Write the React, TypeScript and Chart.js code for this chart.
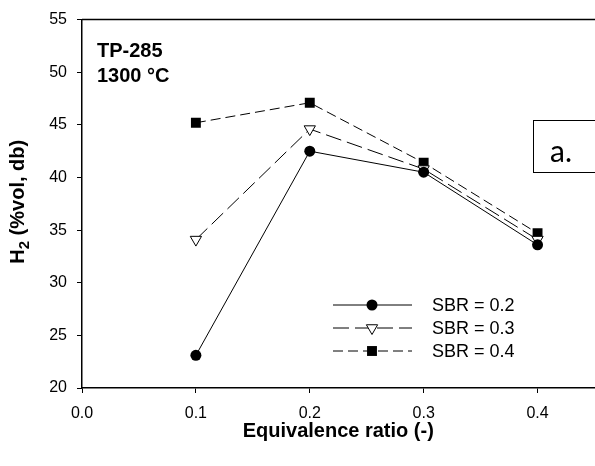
import React, { useEffect, useRef } from 'react';
import { Chart, registerables } from 'chart.js';
import { drawPoint } from 'chart.js/helpers';

Chart.register(...registerables);

const equivalenceRatio = [0.1, 0.2, 0.3, 0.4];
const sbr02 = [23.1, 42.5, 40.5, 33.6];
const sbr03 = [34.1, 44.6, 40.8, 34.1];
const sbr04 = [45.2, 47.1, 41.4, 34.7];
const seriesLabels = ['SBR = 0.2', 'SBR = 0.3', 'SBR = 0.4'];
const xTickValues = [0.0, 0.1, 0.2, 0.3, 0.4];
const yTickValues = [20, 25, 30, 35, 40, 45, 50, 55];
const annotationLines = ['TP-285', '1300 °C'];
const panelLabel = 'a.';
const xTitle = 'Equivalence ratio (-)';
const yTitleMain = 'H';
const yTitleSub = '2';
const yTitleRest = ' (%vol, db)';

const FONT = '"Liberation Sans", Arial, sans-serif';

const toPoints = (ys: number[]) => equivalenceRatio.map((x, i) => ({ x, y: ys[i] }));

const decorPlugin = {
  id: 'decor',
  afterDraw(chart: any) {
    const ctx = chart.ctx as CanvasRenderingContext2D;
    const area = chart.chartArea;
    ctx.save();
    // top border
    ctx.strokeStyle = '#000';
    ctx.lineWidth = 1.5;
    ctx.beginPath();
    ctx.moveTo(area.left, area.top);
    ctx.lineTo(chart.width, area.top);
    ctx.stroke();

    ctx.fillStyle = '#000';
    // annotation text
    ctx.font = `bold 20px ${FONT}`;
    ctx.textAlign = 'left';
    ctx.textBaseline = 'alphabetic';
    annotationLines.forEach((t, i) => ctx.fillText(t, 97, 57 + i * 25));

    // x title
    ctx.textAlign = 'center';
    ctx.fillText(xTitle, (area.left + area.right) / 2, 437);

    // y title with subscript
    ctx.save();
    ctx.translate(24, (area.top + area.bottom) / 2 - 2);
    ctx.rotate(-Math.PI / 2);
    ctx.textAlign = 'left';
    ctx.font = `bold 20px ${FONT}`;
    const wH = ctx.measureText(yTitleMain).width;
    const wRest = ctx.measureText(yTitleRest).width;
    ctx.font = `bold 15px ${FONT}`;
    const wSub = ctx.measureText(yTitleSub).width;
    const total = wH + wSub + wRest;
    let u = -total / 2;
    ctx.font = `bold 20px ${FONT}`;
    ctx.fillText(yTitleMain, u, 0);
    u += wH;
    ctx.font = `bold 15px ${FONT}`;
    ctx.fillText(yTitleSub, u, 5);
    u += wSub;
    ctx.font = `bold 20px ${FONT}`;
    ctx.fillText(yTitleRest, u, 0);
    ctx.restore();

    // panel label box
    ctx.lineWidth = 1;
    ctx.strokeRect(533.5, 120.5, 80, 52);
    ctx.font = `30px Lato, "Open Sans", sans-serif`;
    ctx.textAlign = 'left';
    ctx.fillText(panelLabel, 550, 162);

    // legend
    const datasets = chart.data.datasets;
    datasets.forEach((ds: any, i: number) => {
      const y = 305 + i * 23;
      ctx.save();
      ctx.strokeStyle = '#000';
      ctx.lineWidth = 1;
      ctx.setLineDash(ds.borderDash || []);
      ctx.beginPath();
      ctx.moveTo(333, y);
      ctx.lineTo(412, y);
      ctx.stroke();
      ctx.setLineDash([]);
      ctx.fillStyle = ds.pointBackgroundColor;
      ctx.strokeStyle = ds.pointBorderColor;
      drawPoint(ctx, {
        pointStyle: ds.pointStyle,
        rotation: ds.pointRotation || 0,
        radius: ds.pointRadius,
        borderWidth: ds.pointBorderWidth,
      } as any, 372, y);
      ctx.restore();
      ctx.fillStyle = '#000';
      ctx.font = `18px ${FONT}`;
      ctx.textAlign = 'left';
      ctx.textBaseline = 'middle';
      ctx.fillText(ds.label, 432, y + 1);
    });
    ctx.restore();
  },
};

export default function App() {
  const ref = useRef<HTMLCanvasElement | null>(null);
  useEffect(() => {
    if (!ref.current) return;
    const chart = new Chart(ref.current, {
      type: 'line',
      data: {
        datasets: [
          {
            label: seriesLabels[0],
            data: toPoints(sbr02),
            borderColor: '#000',
            borderWidth: 1,
            pointStyle: 'circle',
            pointRadius: 5.5,
            pointBackgroundColor: '#000',
            pointBorderColor: '#000',
            pointBorderWidth: 0,
            borderDash: [],
          },
          {
            label: seriesLabels[1],
            data: toPoints(sbr03),
            borderColor: '#000',
            borderWidth: 1,
            pointStyle: 'triangle',
            pointRotation: 180,
            pointRadius: 6.5,
            pointBackgroundColor: '#fff',
            pointBorderColor: '#000',
            pointBorderWidth: 1,
            borderDash: [16, 6],
          },
          {
            label: seriesLabels[2],
            data: toPoints(sbr04),
            borderColor: '#000',
            borderWidth: 1,
            pointStyle: 'rect',
            pointRadius: 7,
            pointBackgroundColor: '#000',
            pointBorderColor: '#000',
            pointBorderWidth: 0,
            borderDash: [10, 5],
          },
        ] as any,
      },
      options: {
        animation: false,
        responsive: false,
        devicePixelRatio: 1,
        layout: { padding: { top: 12, right: 5, bottom: 0, left: 0 } },
        plugins: { legend: { display: false }, tooltip: { enabled: false } },
        scales: {
          x: {
            type: 'linear',
            min: 0,
            max: 0.45,
            afterBuildTicks: (s: any) => {
              s.ticks = xTickValues.map((v) => ({ value: v }));
            },
            afterFit: (s: any) => {
              s.height = 78;
            },
            ticks: {
              callback: (v: any) => Number(v).toFixed(1),
              font: { family: FONT, size: 16 },
              color: '#000',
              padding: 11,
              maxRotation: 0,
              autoSkip: false,
            },
            grid: { drawOnChartArea: false, drawTicks: true, tickLength: 5, color: '#000', lineWidth: 1 },
            border: { color: '#000', width: 1.5 },
          },
          y: {
            type: 'linear',
            min: 20,
            max: 55,
            afterBuildTicks: (s: any) => {
              s.ticks = yTickValues.map((v) => ({ value: v }));
            },
            afterFit: (s: any) => {
              s.width = 82;
            },
            ticks: {
              font: { family: FONT, size: 16 },
              color: '#000',
              padding: 10,
              autoSkip: false,
            },
            grid: { drawOnChartArea: false, drawTicks: true, tickLength: 5, color: '#000', lineWidth: 1 },
            border: { color: '#000', width: 1.5 },
          },
        },
      } as any,
      plugins: [decorPlugin],
    });
    return () => chart.destroy();
  }, []);
  return (
    <div style={{ position: 'absolute', left: 0, top: 0, width: 595, height: 466, overflow: 'hidden', background: '#fff' }}>
      <canvas ref={ref} width={602} height={466} style={{ width: 602, height: 466, display: 'block' }} />
    </div>
  );
}
